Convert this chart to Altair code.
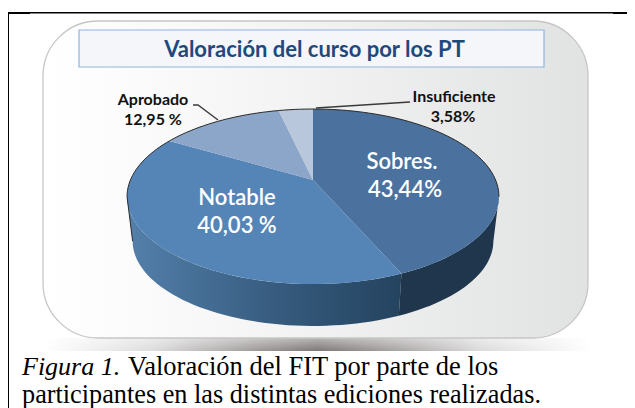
import math
import altair as alt

# ---- data ----
slice_names = ["Sobres.", "Notable", "Aprobado", "Insuficiente"]
slice_shares = [43.44, 40.03, 12.95, 3.58]
slice_colors = ["#4b729f", "#5585b6", "#8ba6c9", "#b8c7dc"]

title_text = "Valoración del curso por los PT"
caption_italic = "Figura 1."
caption_rest_1 = "Valoración del FIT por parte de los"
caption_line_2 = "participantes en las distintas ediciones realizadas."

label_text = ["Sobres.", "43,44%", "Notable", "40,03 %"]
label_x = [402, 405, 237, 237]
label_y = [162, 190, 198, 226]
outer_text = ["Aprobado", "12,95 %", "Insuficiente", "3,58%"]
outer_x = [153, 153, 454, 453]
outer_y = [100, 120, 97, 117]

# ---- perspective disc: turns shares into rim points ----
FONT = "Lato"
OX, OY = 8, 8
APEX = (313, 180)
RX, RY, TILT = 182.6, 84.4, 0.189
DEPTH, SHRINK = 45, 0.97


def rim(deg, bottom=False):
    t = math.radians(deg)
    den = 1 + TILT * math.cos(t)
    x, y = RX * math.sin(t) / den, RY * math.cos(t) / den
    return [x * SHRINK, y * SHRINK - DEPTH] if bottom else [x, y]


def arc(a, b, bottom=False):
    n = max(2, int(abs(b - a) / 2) + 1)
    return [rim(a + (b - a) * i / (n - 1), bottom) for i in range(n)]


def feature(name, geom_type, coords):
    return {"type": "Feature", "properties": {"label": name},
            "geometry": {"type": geom_type, "coordinates": coords}}


bounds = [0.0]
for s in slice_shares:
    bounds.append(bounds[-1] + s * 3.6 * 100 / sum(slice_shares))

tops = [feature(n, "Polygon", [[[0, 0]] + arc(bounds[i], bounds[i + 1]) + [[0, 0]]])
        for i, n in enumerate(slice_names)]


def wall(a, b):
    ring = arc(a, b) + arc(b, a, True)
    return [feature("wall", "Polygon", [ring + [ring[0]]])]


RIGHT_EDGE, LEFT_EDGE = 101, 259
PROJ = dict(type="identity", scale=1, reflectY=True,
            translate=[APEX[0] - OX, APEX[1] - OY])
one = alt.Data(values=[{}])


def box(x1, y1, x2, y2, **mark):
    return alt.Chart(one).mark_rect(**mark).encode(
        x=alt.value(x1 - OX), x2=alt.value(x2 - OX),
        y=alt.value(y1 - OY), y2=alt.value(y2 - OY))


def text(t, x, y, **mark):
    return alt.Chart(alt.Data(values=[{"t": t}])).mark_text(font=mark.pop("font", FONT), **mark).encode(
        x=alt.value(x - OX), y=alt.value(y - OY), text="t:N")


def grad(stops, x2=1, y2=0):
    return alt.LinearGradient(gradient="linear", x1=0, y1=0, x2=x2, y2=y2,
                              stops=[alt.GradientStop(offset=o, color=c) for o, c in stops])


layers = []
# frame
layers += [box(7, 12, 635, 13.5, fill="black"), box(7, 12, 30, 14, fill="black"),
           box(613, 12, 635, 14, fill="black"), box(6, 12, 9, 408, fill="black")]
# shadow
layers.append(box(45, 338, 590, 351, fill=grad([(0, "#ffffff"), (0.2, "#dcdbdb"), (0.4, "#9a9695"),
                                                (0.5, "#7d7878"), (0.6, "#9a9695"), (0.8, "#dcdbdb"), (1, "#ffffff")])))
layers.append(box(45, 338, 590, 351, fill=grad([(0, "rgba(255,255,255,0.45)"), (1, "rgba(255,255,255,0)")], x2=0, y2=1)))
# panel
layers.append(box(43, 21, 588, 338, cornerRadius=55, stroke="#c6c6c6", strokeWidth=1.3,
                  fill=grad([(0, "#ffffff"), (0.3, "#f8f8f8"), (1, "#e1e2e2")])))
# title box
layers.append(box(79, 30, 544, 67, fill="#f4f6f9", stroke="#8db4e2", strokeWidth=1.2))
layers.append(text(title_text, 314.5, 50, fontSize=22, fontWeight="bold", color="#1f497d", baseline="middle"))

# walls
layers.append(alt.Chart(alt.Data(values=wall(bounds[1], LEFT_EDGE))).mark_geoshape(
    fill=grad([(0, "#5480ab"), (0.55, "#365b7e"), (1, "#24435f")]), strokeWidth=0).project(**PROJ))
layers.append(alt.Chart(alt.Data(values=wall(RIGHT_EDGE, bounds[1]))).mark_geoshape(
    fill="#1f364d", strokeWidth=0).project(**PROJ))
# top
layers.append(alt.Chart(alt.Data(values=tops)).mark_geoshape(strokeWidth=0).encode(
    color=alt.Color("properties.label:N", legend=None,
                    scale=alt.Scale(domain=slice_names, range=slice_colors))).project(**PROJ))
# dark outline along the far rim and left edge
outline = [rim(LEFT_EDGE, True)] + arc(LEFT_EDGE, 360 + RIGHT_EDGE)
layers.append(alt.Chart(alt.Data(values=[feature("rim", "LineString", outline)])).mark_geoshape(
    filled=False, stroke="#2a2a2a", strokeWidth=1).project(**PROJ))
# leaders
layers.append(alt.Chart(alt.Data(values=[feature("a", "LineString", [[193 - APEX[0], APEX[1] - 105], [198 - APEX[0], APEX[1] - 105], [218 - APEX[0], APEX[1] - 120]]),
                                         feature("b", "LineString", [[410 - APEX[0], APEX[1] - 102], [316 - APEX[0], APEX[1] - 108]])])).mark_geoshape(
    filled=False, stroke="#3a3a3a", strokeWidth=1.4).project(**PROJ))

for t, x, y in zip(label_text, label_x, label_y):
    layers.append(text(t, x, y, fontSize=22, fontWeight=600, color="white", baseline="middle"))
for t, x, y in zip(outer_text, outer_x, outer_y):
    layers.append(text(t, x, y, fontSize=16, fontWeight="bold", color="#111111", baseline="middle"))

# caption
layers.append(text(caption_italic, 22, 375, font="Liberation Serif", fontSize=26, fontStyle="italic",
                   color="black", align="left", baseline="alphabetic"))
layers.append(text(caption_rest_1, 128, 375, font="Liberation Serif", fontSize=26.5,
                   color="black", align="left", baseline="alphabetic"))
layers.append(text(caption_line_2, 22, 403, font="Liberation Serif", fontSize=26.25,
                   color="black", align="left", baseline="alphabetic"))

chart = alt.layer(*layers).properties(
    width=619, height=400, padding=0,
    autosize=alt.AutoSizeParams(type="none"),
    background="white",
).configure_view(stroke=None)

chart.save("out.html", embed_options={"renderer": "svg", "actions": False})
